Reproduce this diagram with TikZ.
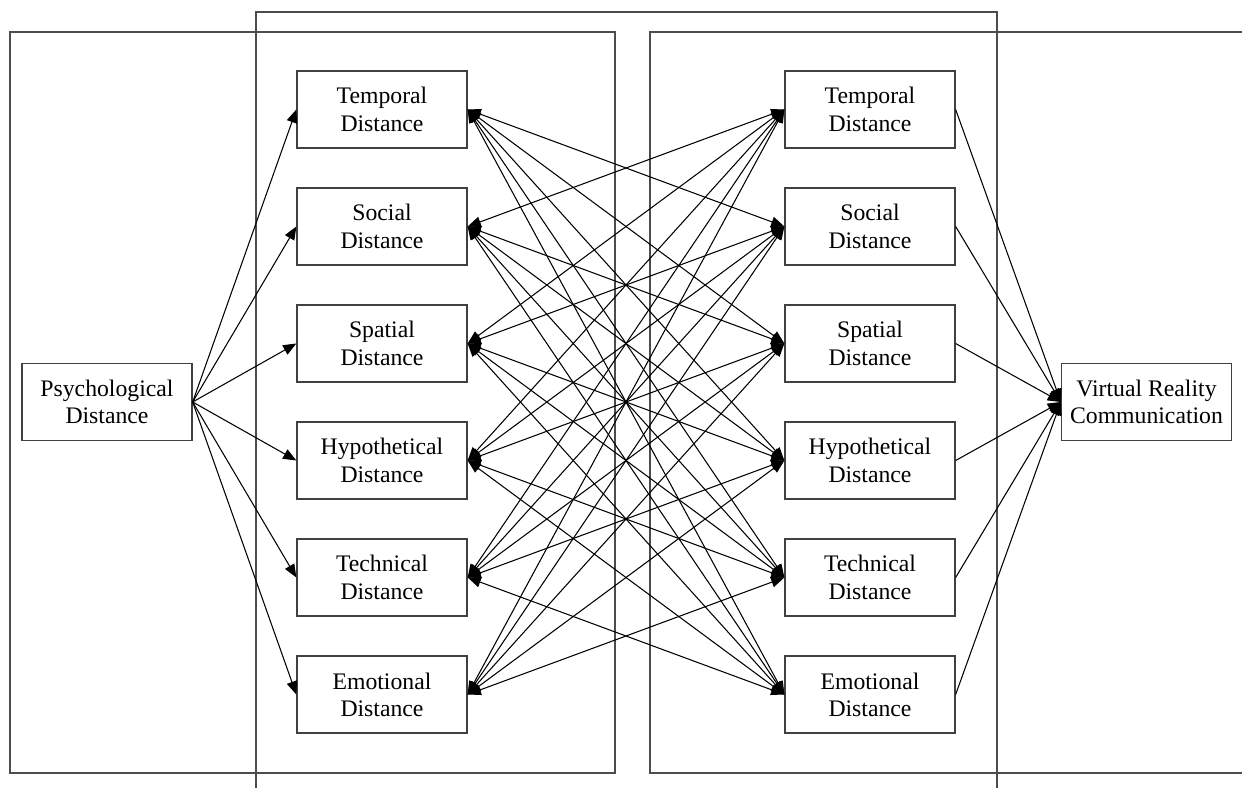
\documentclass[tikz,border=0pt]{standalone}
\usepackage{fontspec}
\setmainfont{Liberation Serif}
\usetikzlibrary{arrows.meta}
\begin{document}
\begin{tikzpicture}[
  frame/.style={draw=black!70, line width=0.9pt},
  dbox/.style={draw=black!75, line width=0.75pt, minimum width=3.4cm, minimum height=1.54cm, inner sep=0pt, align=center, font=\fontsize{13.5}{15.5}\selectfont},
  conn/.style={line width=0.6pt, -{Triangle[length=7.5pt,width=6pt]}},
  dconn/.style={line width=0.6pt, {Triangle[length=7.5pt,width=6pt]}-{Triangle[length=7.5pt,width=6pt]}}
]
\useasboundingbox (0,0) rectangle (24.84,-15.76);
% frames
\draw[frame] (0.2,-0.64) rectangle (12.30,-15.46);
\draw[frame] (24.84,-0.64) -- (13.0,-0.64) -- (13.0,-15.46) -- (24.84,-15.46);
\draw[frame] (5.12,-15.76) -- (5.12,-0.24) -- (19.94,-0.24) -- (19.94,-15.76);
% nodes
\node[dbox] (P) at (2.14,-8.04) {Psychological\\Distance};
\node[dbox] (V) at (22.93,-8.04) {Virtual Reality\\Communication};
\foreach \i/\t/\y in {1/Temporal/-2.19, 2/Social/-4.53, 3/Spatial/-6.87, 4/Hypothetical/-9.21, 5/Technical/-11.55, 6/Emotional/-13.89} {
  \node[dbox] (L\i) at (7.64,\y) {\t\\Distance};
  \node[dbox] (R\i) at (17.40,\y) {\t\\Distance};
}
% connectors
\foreach \i in {1,...,6} {
  \draw[conn] (P.east) -- (L\i.west);
  \draw[conn] (R\i.east) -- (V.west);
}
\foreach \i in {1,...,6} {
  \foreach \j in {1,...,6} {
    \ifnum\i=\j\else
      \draw[dconn] (L\i.east) -- (R\j.west);
    \fi
  }
}
\end{tikzpicture}
\end{document}
